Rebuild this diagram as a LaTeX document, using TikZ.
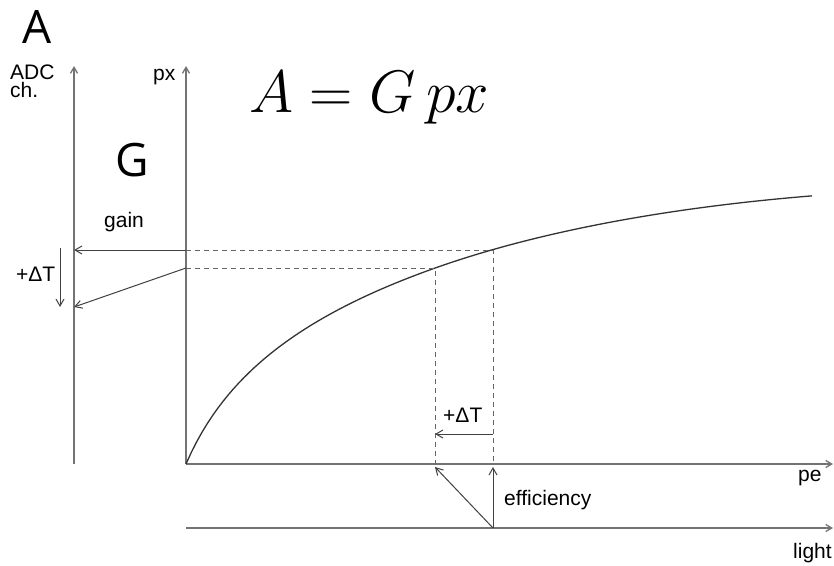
\RequirePackage{fix-cm}
\documentclass[tikz,border=0pt]{standalone}
\usepackage[no-math]{fontspec}
\setmainfont{Liberation Sans}
\newfontfamily\bigfont{Open Sans}
\usepackage{tikz}
\usetikzlibrary{arrows.meta, calc}

\begin{document}
\begin{tikzpicture}[
    x=1pt, y=-1pt,
    axis/.style={draw=black!55, line width=1.3pt, -{Straight Barb[length=6pt, width=7pt]}},
    guide/.style={draw=black!60, line width=1pt, dash pattern=on 5pt off 4pt},
    arrow/.style={draw=black!75, line width=1pt, -{Straight Barb[length=7pt, width=8pt]}},
    curve/.style={draw=black!80, line width=1.3pt},
    lbl/.style={font=\fontsize{21}{21}\selectfont, inner sep=0pt, anchor=base west},
    big/.style={font=\bigfont\fontsize{46}{46}\selectfont, inner sep=0pt, anchor=base west}
]
\useasboundingbox (0,0) rectangle (834,565);

% points
\coordinate (adc0) at (74,464);
\coordinate (adc1) at (74,66);
\coordinate (o) at (186,464);
\coordinate (px1) at (186,66);
\coordinate (pe1) at (833,464);
\coordinate (l0) at (186,528);
\coordinate (l1) at (833,528);
\coordinate (hi) at (493,250);
\coordinate (lo) at (435,268);
\coordinate (adcT) at (74,307);
\coordinate (src) at (493,528);

% axes
\draw[axis] (adc0) -- (adc1);
\draw[axis] (o) -- (px1);
\draw[axis] (o) -- (pe1);
\draw[axis] (l0) -- (l1);

% response curve
\draw[curve] plot[domain=186:812, samples=120]
    (\x, {464 - (104.4*ln(1+(\x-186)/45) - (max(0,\x-436)/100.7)^2)});

% dashed guides
\draw[guide] (o |- hi) -- (hi) -- (hi |- o);
\draw[guide] (o |- lo) -- (lo) -- (lo |- o);

% gain
\draw[arrow] (o |- hi) -- (adc0 |- hi);
\draw[arrow] (o |- lo) -- (adcT);
\coordinate (dT0) at (60,248);
\coordinate (dT1) at (60,307);
\draw[arrow] (dT0) -- (dT1);

% shift in pe
\coordinate (dTa) at (493,434);
\coordinate (dTb) at (435,434);
\draw[arrow] (dTa) -- (dTb);

% efficiency
\coordinate (effA) at (493,467);
\coordinate (effB) at (435,467);
\draw[arrow] (src) -- (effA);
\draw[arrow] (src) -- (effB);

% labels
\node[big] (bigA) at (22,43) {A};
\node[big] (bigG) at (115,176) {G};
\node[lbl, anchor=north west, align=left, font=\fontsize{21}{18}\selectfont] (adc) at (10,65) {ADC\\ch.};
\node[lbl] (px) at (153,80) {px};
\node[lbl] (gain) at (104,227) {gain};
\node[lbl] (dTl) at (16,281) {+ΔT};
\node[lbl] (dTr) at (443,422) {+ΔT};
\node[lbl] (eff) at (504,505) {efficiency};
\node[lbl] (pe) at (798,481) {pe};
\node[lbl] (light) at (793,558) {light};
\node[inner sep=0pt, anchor=base west, font=\fontsize{60}{60}\selectfont] (eq) at (249,112) {$A = G\,px$};

\end{tikzpicture}
\end{document}
